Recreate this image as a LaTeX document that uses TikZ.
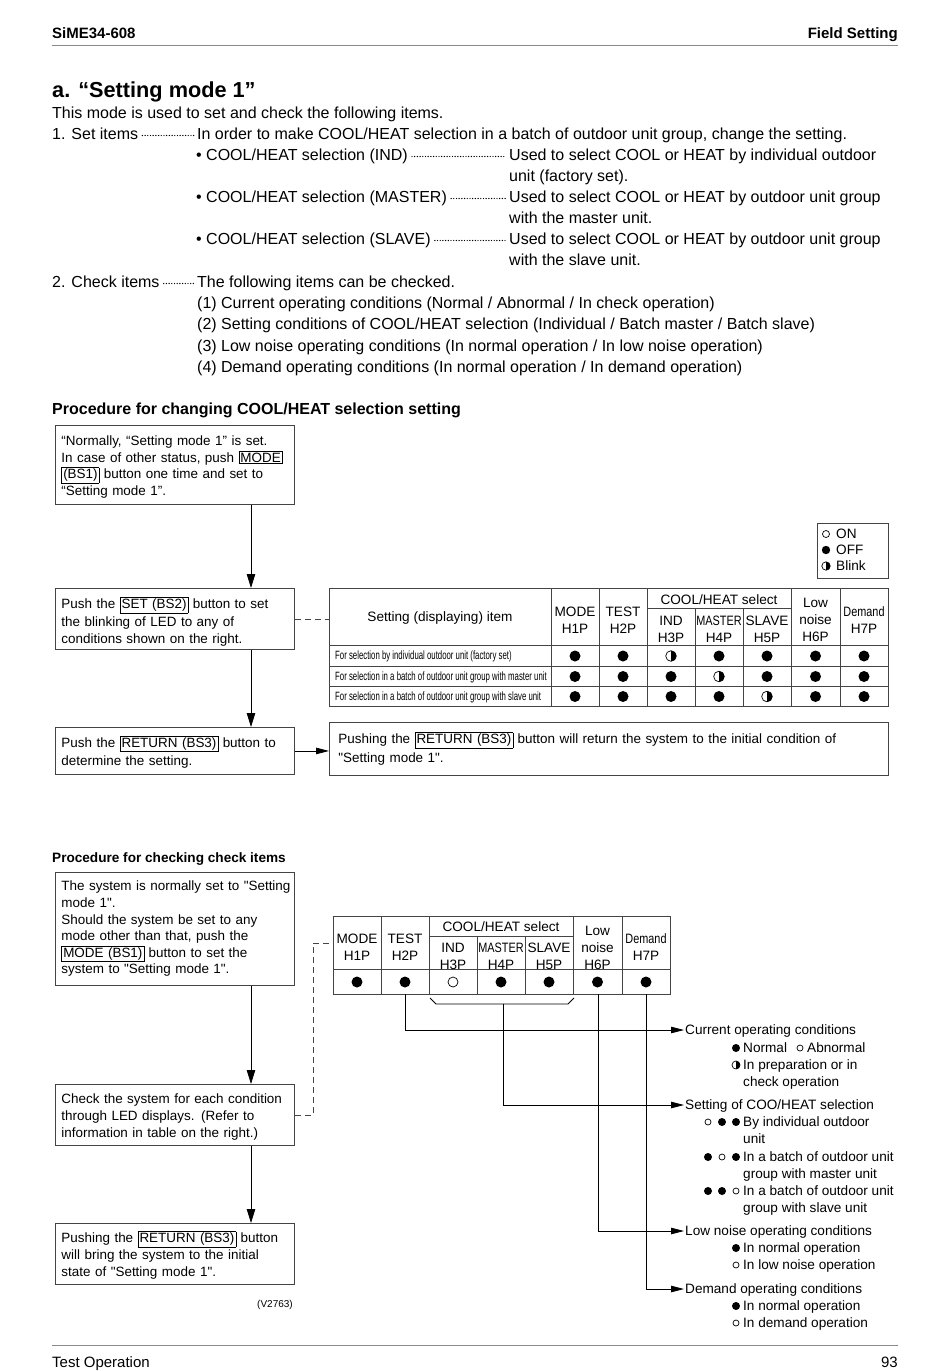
\documentclass[tikz,border=0pt]{standalone}
\usepackage{fontspec}
\setmainfont{Liberation Sans}
\newfontfamily\plainfont{Liberation Sans}
\newfontfamily\condfont[FakeStretch=0.65]{Liberation Sans}
\newfontfamily\narrowfont[FakeStretch=0.8]{Liberation Sans}
\usetikzlibrary{arrows.meta}
\setlength{\fboxsep}{1.2pt}
\setlength{\fboxrule}{0.6pt}
\newcommand\fsz[1]{\fontsize{#1}{#1}\selectfont}
\newcommand\bxstrut{\rule{0pt}{13.8pt}}
\newcommand\ledOff[3]{\fill[black] (#1,#2) circle (#3pt);}
\newcommand\ledOn[3]{\draw[line width=0.7pt] (#1,#2) circle (#3pt);}
\newcommand\ledBlink[3]{\draw[line width=0.7pt] (#1,#2) circle (#3pt); \begin{scope}\clip (#1,#2-10) rectangle (#1+10,#2+10); \fill (#1,#2) circle (#3pt);\end{scope}}
\definecolor{gridc}{HTML}{444444}
\definecolor{rulec}{HTML}{8A8A8A}
\tikzset{
  t16/.style={inner sep=0pt, anchor=west, font=\fsz{16}, text height=11.5pt, text depth=0pt},
  t15/.style={inner sep=0pt, font=\fsz{15}, text height=10.8pt, text depth=0pt},
  t13/.style={inner sep=0pt, anchor=west, font=\fsz{13.6}, text height=9.8pt, text depth=0.5pt},
  rowt/.style={inner sep=0pt, anchor=west, font=\condfont\fsz{12}, text height=8.6pt, text depth=1.5pt},
  hd/.style={inner sep=0pt, align=center, font=\fontsize{13.6}{17}\selectfont},
  box/.style={draw=gridc, line width=0.9pt, anchor=north west, inner xsep=6pt, inner ysep=0pt, align=left, font=\plainfont\fontsize{13.45}{16.6}\selectfont},
  grid/.style={draw=gridc, line width=0.8pt},
  flow/.style={-{Triangle[length=14pt,width=8.5pt]}, line width=0.8pt},
  flowh/.style={-{Triangle[length=13pt,width=6.5pt]}, line width=0.8pt},
  leader/.style={line width=1.4pt, dash pattern=on 0pt off 2.7pt, line cap=round},
  dsh/.style={draw=gridc, line width=0.8pt, dash pattern=on 6pt off 4pt},
}
\begin{document}
\begin{tikzpicture}[x=1pt,y=-1pt]
\useasboundingbox (0,0) rectangle (950,1371);
\fill[white] (0,0) rectangle (950,1371);

% header / footer
\node[t15, anchor=west, font=\bfseries\fsz{15}] (hl) at (52,33) {SiME34-608};
\node[t15, anchor=east, font=\bfseries\fsz{15}] (hr) at (898,33) {Field Setting};
\draw[rulec, line width=1pt] (52,45) -- (898,45);
\draw[rulec, line width=1pt] (52,1345) -- (898,1345);
\node[t15, anchor=west] (fl) at (52,1362) {Test Operation};
\node[t15, anchor=east] (fr) at (898,1362) {93};

% top text
\node[inner sep=0pt, anchor=west, font=\bfseries\fsz{21.7}, text height=15.6pt, text depth=0pt] (title) at (52,90) {a. “Setting mode 1”};
\node[t16] (l0) at (52,113) {This mode is used to set and check the following items.};
\node[t16] (s1) at (52,134) {1. Set items};
\node[t16] (s1t) at (197,134) {In order to make COOL/HEAT selection in a batch of outdoor unit group, change the setting.};
\node[t16] (s2) at (196,155) {• COOL/HEAT selection (IND)};
\node[t16] (s2t) at (509,155) {Used to select COOL or HEAT by individual outdoor};
\node[t16] (s2u) at (509,176) {unit (factory set).};
\node[t16] (s3) at (196,197) {• COOL/HEAT selection (MASTER)};
\node[t16] (s3t) at (509,197) {Used to select COOL or HEAT by outdoor unit group};
\node[t16] (s3u) at (509,218) {with the master unit.};
\node[t16] (s4) at (196,239) {• COOL/HEAT selection (SLAVE)};
\node[t16] (s4t) at (509,239) {Used to select COOL or HEAT by outdoor unit group};
\node[t16] (s4u) at (509,260) {with the slave unit.};
\node[t16] (k0) at (52,282) {2. Check items};
\node[t16] (k0t) at (197,282) {The following items can be checked.};
\node[t16] (k1) at (197,303) {(1) Current operating conditions (Normal / Abnormal / In check operation)};
\node[t16] (k2) at (197,324) {(2) Setting conditions of COOL/HEAT selection (Individual / Batch master / Batch slave)};
\node[t16] (k3) at (197,346) {(3) Low noise operating conditions (In normal operation / In low noise operation)};
\node[t16] (k4) at (197,367) {(4) Demand operating conditions (In normal operation / In demand operation)};
\draw[leader] ([xshift=4pt,yshift=-1.5pt]s1.east) -- ([xshift=-3pt,yshift=-1.5pt]s1t.west);
\draw[leader] ([xshift=4pt,yshift=-1.5pt]s2.east) -- ([xshift=-3pt,yshift=-1.5pt]s2t.west);
\draw[leader] ([xshift=4pt,yshift=-1.5pt]s3.east) -- ([xshift=-3pt,yshift=-1.5pt]s3t.west);
\draw[leader] ([xshift=4pt,yshift=-1.5pt]s4.east) -- ([xshift=-3pt,yshift=-1.5pt]s4t.west);
\draw[leader] ([xshift=4pt,yshift=-1.5pt]k0.east) -- ([xshift=-3pt,yshift=-1.5pt]k0t.west);

\node[inner sep=0pt, anchor=west, font=\bfseries\fsz{16}, text height=11.5pt, text depth=0pt] (p1) at (52,409) {Procedure for changing COOL/HEAT selection setting};

% flow 1
\coordinate (ax) at (251,0);
\node[box, minimum width=239pt, minimum height=79pt, text width=227pt] (b1) at (55,425)
  {\bxstrut“Normally, “Setting mode 1” is set.\\In case of other status, push \fbox{MODE}\\\fbox{(BS1)} button one time and set to\\“Setting mode 1”.};
\node[box, minimum width=239pt, minimum height=61pt, text width=227pt, font=\plainfont\fontsize{13.45}{17.5}\selectfont] (b2) at (55,588)
  {\rule{0pt}{17pt}Push the \fbox{SET (BS2)} button to set\\the blinking of LED to any of\\conditions shown on the right.};
\node[box, minimum width=239pt, minimum height=47pt, text width=227pt, font=\plainfont\fontsize{13.45}{18}\selectfont] (b3) at (55,727)
  {\bxstrut Push the \fbox{RETURN (BS3)} button to\\determine the setting.};
\node[box, minimum width=559pt, minimum height=53pt, text width=541pt, inner xsep=9pt, font=\plainfont\fontsize{13.45}{19}\selectfont] (b4) at (329,722)
  {Pushing the \fbox{RETURN (BS3)} button will return the system to the initial condition of\\"Setting mode 1".};
\draw[flow] (b1.south -| ax) -- (b2.north -| ax);
\draw[flow] (b2.south -| ax) -- (b3.north -| ax);
\draw[flowh] (b3.east) -- (b4.west |- b3.east);

% legend
\node[grid, draw, anchor=north west, minimum width=71pt, minimum height=55pt, inner sep=0pt] (leg) at (817,523) {};
\ledOn{826}{534}{3.5}
\ledOff{826}{550}{4.2}
\ledBlink{826}{566}{4.2}
\node[t13] (lg1) at (836,534) {ON};
\node[t13] (lg2) at (836,550) {OFF};
\node[t13] (lg3) at (836,566) {Blink};

% table 1
\node[grid, draw, anchor=north west, minimum width=559pt, minimum height=118pt, inner sep=0pt] (t1) at (329,588) {};
\draw[dsh] (b2.east) -- (t1.west |- b2.east);
\foreach \yy in {645,666,686} {\draw[grid] (329,\yy) -- (888,\yy);}
\draw[grid] (647,608) -- (791,608);
\foreach \xx in {551,599,647,791,840} {\draw[grid] (\xx,588) -- (\xx,706);}
\foreach \xx in {695,743} {\draw[grid] (\xx,608) -- (\xx,706);}
\node[hd] (h0) at (440,618) {Setting (displaying) item};
\node[hd] (h1) at (575,620.5) {MODE\\H1P};
\node[hd] (h2) at (623,620.5) {TEST\\H2P};
\node[hd] (hc) at (719,599.5) {COOL/HEAT select};
\node[hd] (h3) at (671,629) {IND\\H3P};
\node[hd] (h4) at (719,629) {{\narrowfont MASTER}\\H4P};
\node[hd] (h5) at (767,629) {SLAVE\\H5P};
\node[hd] (h6) at (815.5,620) {Low\\noise\\H6P};
\node[hd] (h7) at (864,620.5) {{\narrowfont Demand}\\H7P};
\node[rowt] (r1) at (335,656) {For selection by individual outdoor unit (factory set)};
\node[rowt] (r2) at (335,676.5) {For selection in a batch of outdoor unit group with master unit};
\node[rowt] (r3) at (335,696.5) {For selection in a batch of outdoor unit group with slave unit};
\foreach \xx in {575,623,719,767,815.5,864} {\ledOff{\xx}{656}{5.5}}
\ledBlink{671}{656}{5.3}
\foreach \xx in {575,623,671,767,815.5,864} {\ledOff{\xx}{676.5}{5.5}}
\ledBlink{719}{676.5}{5.3}
\foreach \xx in {575,623,671,719,815.5,864} {\ledOff{\xx}{696.5}{5.5}}
\ledBlink{767}{696.5}{5.3}

% flow 2
\node[inner sep=0pt, anchor=west, font=\bfseries\fsz{13.6}, text height=9.8pt, text depth=0.5pt] (p2) at (52,858) {Procedure for checking check items};
\node[box, minimum width=239pt, minimum height=113pt, text width=227pt] (b5) at (55,872)
  {\mbox{The system is normally set to "Setting}\\mode 1".\\Should the system be set to any\\mode other than that, push the\\\fbox{MODE (BS1)} button to set the\\system to "Setting mode 1".};
\node[box, minimum width=239pt, minimum height=61pt, text width=227pt] (b6) at (55,1084)
  {\bxstrut Check the system for each condition\\through LED displays. (Refer to\\information in table on the right.)};
\node[box, minimum width=239pt, minimum height=61pt, text width=227pt] (b7) at (55,1223)
  {\bxstrut Pushing the \fbox{RETURN (BS3)} button\\will bring the system to the initial\\state of "Setting mode 1".};
\draw[flow] (b5.south -| ax) -- (b6.north -| ax);
\draw[flow] (b6.south -| ax) -- (b7.north -| ax);
\node[inner sep=0pt, font=\fsz{10}] (vref) at (275,1305) {(V2763)};

% table 2
\node[grid, draw, anchor=north west, minimum width=337pt, minimum height=78pt, inner sep=0pt] (t2) at (333,916) {};
\coordinate (dj) at (313,943);
\draw[dsh] (b6.east) -| (dj) -- (t2.west |- dj);
\draw[grid] (333,969) -- (670,969);
\draw[grid] (429,936) -- (573,936);
\foreach \xx in {381,429,573,622} {\draw[grid] (\xx,916) -- (\xx,994);}
\foreach \xx in {477,525} {\draw[grid] (\xx,936) -- (\xx,994);}
\node[hd] (g1) at (357,947.5) {MODE\\H1P};
\node[hd] (g2) at (405,947.5) {TEST\\H2P};
\node[hd] (gc) at (501,926.5) {COOL/HEAT select};
\node[hd] (g3) at (453,956.5) {IND\\H3P};
\node[hd] (g4) at (501,956.5) {{\narrowfont MASTER}\\H4P};
\node[hd] (g5) at (549,956.5) {SLAVE\\H5P};
\node[hd] (g6) at (597.5,947.5) {Low\\noise\\H6P};
\node[hd] (g7) at (646,947.5) {{\narrowfont Demand}\\H7P};
\foreach \xx in {357,405,501,549,597.5,646} {\ledOff{\xx}{982}{5.5}}
\ledOn{453}{982}{5}
\draw[line width=0.8pt] (430,998) -- (436,1004) -- (568,1004) -- (574,998);
\coordinate (cTest) at (405,994);
\coordinate (cSel) at (503,1004);
\coordinate (cLow) at (598,994);
\coordinate (cDem) at (646,994);

% labels
\node[t13] (c1) at (685,1030) {Current operating conditions};
\ledOff{736}{1048}{4}
\node[t13] (c1a) at (743,1048) {Normal};
\ledOn{800}{1048}{3}
\node[t13] (c1b) at (807,1048) {Abnormal};
\ledBlink{736}{1065}{4}
\node[t13] (c1c) at (743,1065) {In preparation or in};
\node[t13] (c1d) at (743,1082) {check operation};

\node[t13] (c2) at (685,1105) {Setting of COO/HEAT selection};
\ledOn{708}{1122}{3}\ledOff{722}{1122}{4}\ledOff{736}{1122}{4}
\node[t13] (c2a) at (743,1122) {By individual outdoor};
\node[t13] (c2b) at (743,1139) {unit};
\ledOff{708}{1157}{4}\ledOn{722}{1157}{3}\ledOff{736}{1157}{4}
\node[t13] (c2c) at (743,1157) {In a batch of outdoor unit};
\node[t13] (c2d) at (743,1174) {group with master unit};
\ledOff{708}{1191}{4}\ledOff{722}{1191}{4}\ledOn{736}{1191}{3}
\node[t13] (c2e) at (743,1191) {In a batch of outdoor unit};
\node[t13] (c2f) at (743,1208) {group with slave unit};

\node[t13] (c3) at (685,1231) {Low noise operating conditions};
\ledOff{736}{1248}{4}
\node[t13] (c3a) at (743,1248) {In normal operation};
\ledOn{736}{1265}{3}
\node[t13] (c3b) at (743,1265) {In low noise operation};

\node[t13] (c4) at (685,1289) {Demand operating conditions};
\ledOff{736}{1306}{4}
\node[t13] (c4a) at (743,1306) {In normal operation};
\ledOn{736}{1323}{3}
\node[t13] (c4b) at (743,1323) {In demand operation};

\draw[flowh] (cTest) |- ([xshift=-1pt]c1.west);
\draw[flowh] (cSel) |- ([xshift=-1pt]c2.west);
\draw[flowh] (cLow) |- ([xshift=-1pt]c3.west);
\draw[flowh] (cDem) |- ([xshift=-1pt]c4.west);
\end{tikzpicture}
\end{document}
